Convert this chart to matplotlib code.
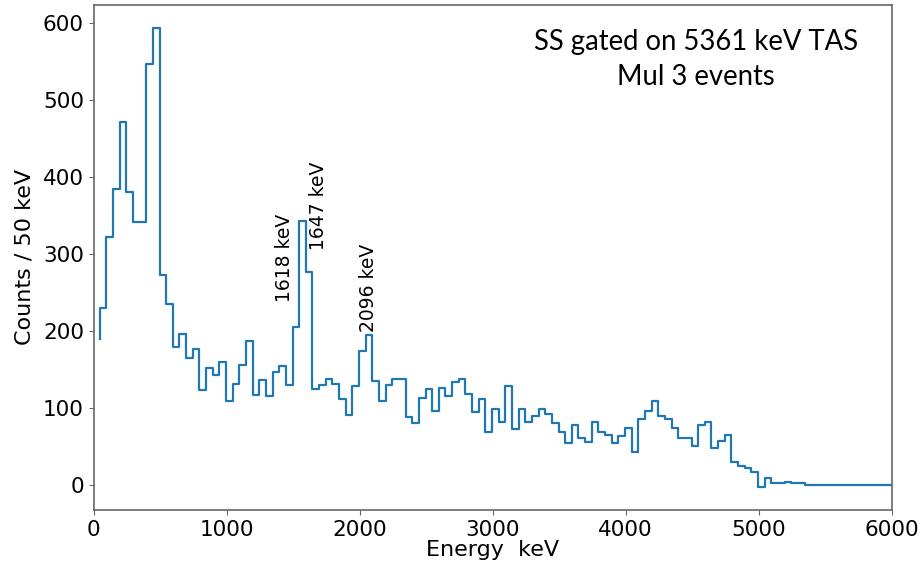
import numpy as np
import matplotlib
matplotlib.use('Agg')
import matplotlib.pyplot as plt

# 50 keV bins
bin_width = 50
first_edge = 45
counts = [190, 230, 322, 384, 471, 380, 342, 342, 547, 594,
          273, 235, 179, 196, 165, 176, 123, 152, 142, 160,
          109, 131, 156, 187, 117, 136, 115, 147, 154, 129,
          205, 343, 276, 124, 130, 137, 131, 112, 91, 128,
          174, 195, 135, 109, 129, 137, 137, 88, 80, 113,
          124, 96, 126, 115, 133, 138, 118, 94, 111, 68,
          99, 81, 128, 72, 98, 82, 89, 98, 92, 80,
          68, 54, 78, 61, 55, 82, 68, 65, 54, 63,
          74, 42, 86, 96, 109, 89, 85, 74, 60, 61,
          50, 78, 81, 48, 57, 65, 30, 24, 22, 17,
          -3, 8, 2, 2, 3, 2, 2, 0, 0, 0,
          0, 0, 0, 0, 0, 0, 0, 0, 0, 0, 0, 0]
energy = first_edge + bin_width * np.arange(len(counts))

peak_labels = ['1618 keV', '1647 keV', '2096 keV']
peak_label_x = [1438, 1689, 2065]
peak_label_y = [237, 305, 198]

fig = plt.figure(figsize=(9.24, 5.75), dpi=100)
ax = fig.add_axes([0.1014, 0.113, 0.8636, 0.8788])

ax.step(energy, counts, where='pre', color='#1f77b4', lw=1.6)

for lab, x, y in zip(peak_labels, peak_label_x, peak_label_y):
    ax.text(x, y, lab, rotation=90, ha='center', va='bottom', fontsize=13.5)

ax.text(0.755, 0.952, 'SS gated on 5361 keV TAS\nMul 3 events', transform=ax.transAxes,
        ha='center', va='top', fontsize=19.8, family=['Lato', 'DejaVu Sans'],
        linespacing=1.45)

ax.set_xlim(0, 6000)
ax.set_ylim(-33, 624)
ax.set_xticks([0, 1000, 2000, 3000, 4000, 5000, 6000])
ax.set_yticks([0, 100, 200, 300, 400, 500, 600])
ax.tick_params(labelsize=15.5, color='0.4')
ax.set_xlabel('Energy  keV', fontsize=16, labelpad=0)
ax.set_ylabel('Counts / 50 keV', fontsize=16, labelpad=6)
for s in ax.spines.values():
    s.set_color('0.4')
    s.set_linewidth(1.2)

fig.savefig('out.png', dpi=100)
